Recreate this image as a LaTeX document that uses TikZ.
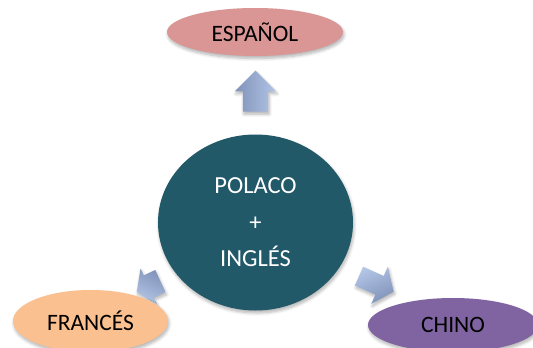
\documentclass[tikz,border=0pt]{standalone}
\usepackage{fontspec}
\setmainfont{Carlito}
\usetikzlibrary{shapes.geometric,shapes.arrows,shadows.blur}
\definecolor{teal}{HTML}{215968}
\definecolor{espc}{HTML}{D99694}
\definecolor{frac}{HTML}{FAC090}
\definecolor{chic}{HTML}{8064A2}
\definecolor{arrl}{RGB}{178,197,230}
\definecolor{arrd}{RGB}{128,146,184}
\tikzset{
  softshadow/.style={blur shadow={shadow xshift=1pt,shadow yshift=-2.5pt,shadow blur steps=6,shadow opacity=30,shadow blur radius=3pt}},
  lang/.style={ellipse,inner sep=0pt,softshadow,font=\fontsize{23.5}{27}\selectfont,text=black},
  bigarrow/.style={single arrow,inner xsep=0pt,minimum width=0pt,softshadow,
    single arrow head indent=0pt},
}
\begin{document}
\begin{tikzpicture}[x=1pt,y=-1pt]
\useasboundingbox (0,0) rectangle (533,348);
\clip (0,0) rectangle (533,348);
% arrows
\node[bigarrow,rotate=90,inner ysep=12.5pt,single arrow head extend=8pt,
  single arrow tip angle=90,minimum height=41pt,
  top color=arrl,bottom color=arrd,shading angle=-90] (aup) at (255.5,97.5) {};
\node[bigarrow,rotate=-24,inner ysep=10pt,single arrow head extend=10pt,
  single arrow tip angle=105,minimum height=38pt,
  top color=arrl,bottom color=arrd,shading angle=24] (achi) at (372.8,282.3) {};
\node[bigarrow,rotate=205,inner ysep=12pt,single arrow head extend=7.5pt,
  single arrow tip angle=112,minimum height=26pt,
  top color=arrl,bottom color=arrd,shading angle=-205] (afra) at (152.3,284.8) {};
% language ellipses
\node[lang,fill=espc,minimum width=176pt,minimum height=48pt] (esp) at (255,32) {ESPAÑOL};
\node[lang,fill=frac,minimum width=155pt,minimum height=62pt] (fra) at (90.5,321) {FRANCÉS};
\node[lang,fill=chic,minimum width=170pt,minimum height=54pt] (chi) at (453,325) {CHINO};
% center
\node[ellipse,fill=teal,softshadow,minimum width=195pt,minimum height=176pt,inner sep=0pt,
  text=white,align=center,font=\fontsize{24.5}{36.5}\selectfont] (pol) at (255.5,222.5)
  {POLACO\\+\\INGLÉS};
\end{tikzpicture}
\end{document}
